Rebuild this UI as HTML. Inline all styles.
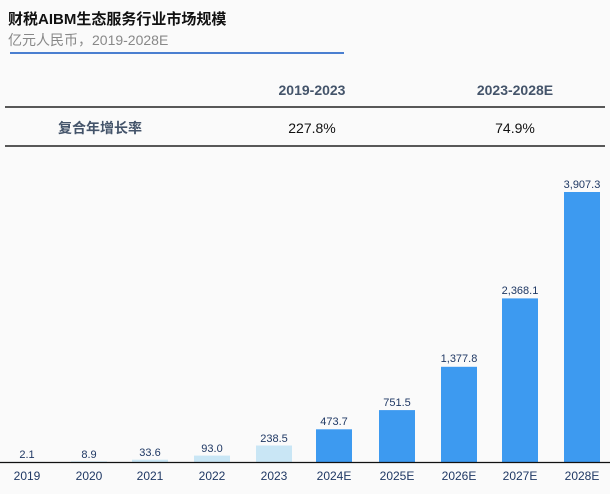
<!DOCTYPE html>
<html><head><meta charset="utf-8"><style>
body{margin:0;width:610px;height:489px;background:#fafafa;overflow:hidden;font-family:"Liberation Sans","Noto Sans CJK SC",sans-serif;}
</style></head><body>
<svg width="610" height="489" xmlns="http://www.w3.org/2000/svg" font-family="Liberation Sans, Noto Sans CJK SC, sans-serif">
<rect width="610" height="489" fill="#fafafa"/>
<text x="8" y="24" font-size="15" font-weight="bold" fill="#111">财税AIBM生态服务行业市场规模</text>
<text x="8" y="45" font-size="14" fill="#888">亿元人民币，2019-2028E</text>
<line x1="10" y1="53" x2="344" y2="53" stroke="#4a7fd0" stroke-width="2"/>
<text x="312" y="95" font-size="14" font-weight="bold" fill="#44546a" text-anchor="middle">2019-2023</text>
<text x="515" y="95" font-size="14" font-weight="bold" fill="#44546a" text-anchor="middle">2023-2028E</text>
<line x1="5" y1="107" x2="605" y2="107" stroke="#222" stroke-width="1.5"/>
<text x="100" y="133" font-size="14" font-weight="bold" fill="#44546a" text-anchor="middle">复合年增长率</text>
<text x="312" y="133" font-size="14" fill="#111" text-anchor="middle">227.8%</text>
<text x="515" y="133" font-size="14" fill="#111" text-anchor="middle">74.9%</text>
<line x1="5" y1="146" x2="605" y2="146" stroke="#222" stroke-width="1.5"/>
<g font-size="11" fill="#1f3864" text-anchor="middle">
<rect x="9" y="461.9" width="36" height="0.1" fill="#c9e6f5"/>
<text x="27" y="458">2.1</text>
<rect x="71" y="461.4" width="36" height="0.6" fill="#c9e6f5"/>
<text x="89" y="458">8.9</text>
<rect x="132" y="459.7" width="36" height="2.3" fill="#c9e6f5"/>
<text x="150" y="456">33.6</text>
<rect x="194" y="455.6" width="36" height="6.4" fill="#c9e6f5"/>
<text x="212" y="452">93.0</text>
<rect x="256" y="445.5" width="36" height="16.5" fill="#c9e6f5"/>
<text x="274" y="442">238.5</text>
<rect x="316" y="429.3" width="36" height="32.7" fill="#3d9af0"/>
<text x="334" y="425">473.7</text>
<rect x="379" y="410.1" width="36" height="51.9" fill="#3d9af0"/>
<text x="397" y="406">751.5</text>
<rect x="441" y="366.8" width="36" height="95.2" fill="#3d9af0"/>
<text x="459" y="362">1,377.8</text>
<rect x="502" y="298.4" width="36" height="163.6" fill="#3d9af0"/>
<text x="520" y="294">2,368.1</text>
<rect x="564" y="192" width="36" height="270" fill="#3d9af0"/>
<text x="582" y="188">3,907.3</text>
</g>
<line x1="0" y1="462.5" x2="610" y2="462.5" stroke="#111" stroke-width="1.2"/>
<g font-size="12" fill="#1f3864" text-anchor="middle">
<text x="27" y="480">2019</text><text x="89" y="480">2020</text><text x="150" y="480">2021</text><text x="212" y="480">2022</text><text x="274" y="480">2023</text><text x="334" y="480">2024E</text><text x="397" y="480">2025E</text><text x="459" y="480">2026E</text><text x="520" y="480">2027E</text><text x="582" y="480">2028E</text>
</g>
</svg>
</body></html>
